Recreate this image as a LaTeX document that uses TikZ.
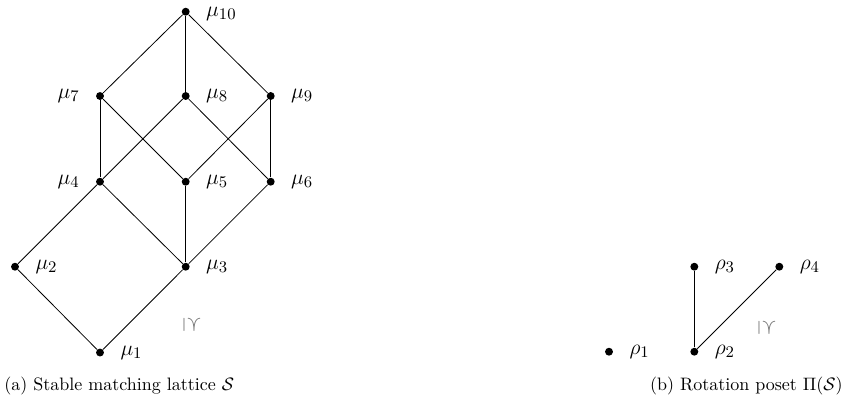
\documentclass[tikz,border=0pt]{standalone}
\usepackage{amssymb}
\usepackage{graphicx}
\begin{document}
\begin{tikzpicture}[x=0.5556pt,y=-0.5556pt,
  dot/.style={circle,fill=black,inner sep=0pt,minimum size=4.4pt},
  lab/.style={label distance=7.8pt,inner sep=1pt,font=\fontsize{13}{15}\selectfont},
  edge/.style={draw=black,line width=0.45pt},
  sym/.style={text=gray!90!black,inner sep=0pt,font=\fontsize{13}{15}\selectfont}]
\useasboundingbox (0,0) rectangle (846,407);
% lattice
\node[dot,label={[lab,yshift=-1.2pt]right:$\mu_{10}$}] (m10) at (185.7,11.7) {};
\node[dot,label={[lab]left:$\mu_{7}$}] (m7) at (100,96) {};
\node[dot,label={[lab]right:$\mu_{8}$}] (m8) at (185.7,96) {};
\node[dot,label={[lab]right:$\mu_{9}$}] (m9) at (270.7,96) {};
\node[dot,label={[lab]left:$\mu_{4}$}] (m4) at (100,181.7) {};
\node[dot,label={[lab]right:$\mu_{5}$}] (m5) at (185.7,181.7) {};
\node[dot,label={[lab]right:$\mu_{6}$}] (m6) at (270.7,181.7) {};
\node[dot,label={[lab]right:$\mu_{2}$}] (m2) at (15,266.7) {};
\node[dot,label={[lab]right:$\mu_{3}$}] (m3) at (185.7,266.7) {};
\node[dot,label={[lab]right:$\mu_{1}$}] (m1) at (100,352.5) {};
\foreach \a/\b in {m10/m7,m10/m8,m10/m9,m7/m4,m7/m5,m8/m4,m8/m6,m9/m5,m9/m6,m4/m2,m4/m3,m5/m3,m6/m3,m2/m1,m3/m1}
  \draw[edge] (\a) -- (\b);
\node[sym] (s1) at (192,325) {\rotatebox[origin=c]{-90}{$\succeq$}};
% rotation poset
\node[dot,label={[lab]right:$\rho_{1}$}] (r1) at (609,351.7) {};
\node[dot,label={[lab]right:$\rho_{2}$}] (r2) at (694.3,351.7) {};
\node[dot,label={[lab]right:$\rho_{3}$}] (r3) at (694.3,266.7) {};
\node[dot,label={[lab]right:$\rho_{4}$}] (r4) at (779.3,266.7) {};
\draw[edge] (r2) -- (r3);
\draw[edge] (r2) -- (r4);
\node[sym] (s2) at (767,328) {\rotatebox[origin=c]{-90}{$\succeq$}};
% captions
\node[anchor=west,inner sep=0pt] (capa) at (4,386) {(a) Stable matching lattice $\mathcal{S}$};
\node[anchor=east,inner sep=0pt] (capb) at (843,386) {(b) Rotation poset $\Pi(\mathcal{S})$};
\end{tikzpicture}
\end{document}
